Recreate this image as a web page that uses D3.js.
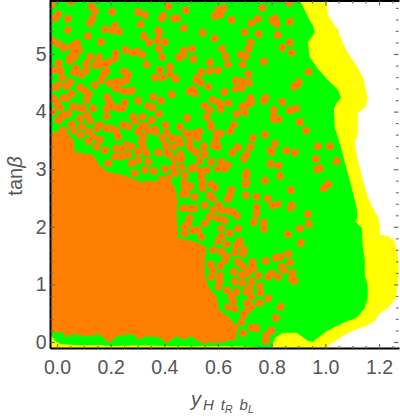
<!DOCTYPE html>
<html><head><meta charset="utf-8">
<script src="https://cdn.jsdelivr.net/npm/d3@7"></script>
<style>html,body{margin:0;padding:0;background:#fff}svg{display:block}</style>
</head><body><svg id="c" width="400" height="416"></svg>
<script>
const xMajor=[0,0.2,0.4,0.6,0.8,1.0,1.2];
const yMajor=[0,1,2,3,4,5];
const yellowEdge=[[1.002,-.1],[1.024,-.02],[1.065,.1],[1.099,.19],[1.155,.28],[1.184,.36],[1.203,.5],[1.233,.59],[1.263,.76],[1.274,1.16],[1.27,1.51],[1.259,1.75],[1.233,1.84],[1.203,1.86],[1.203,1.98],[1.199,2.15],[1.177,2.33],[1.158,2.52],[1.14,2.81],[1.121,3.16],[1.11,3.45],[1.121,3.63],[1.121,3.98],[1.151,4.08],[1.158,4.24],[1.151,4.38],[1.14,4.6],[1.11,4.84],[1.084,5.02],[1.065,5.19],[1.047,5.42],[1.028,5.54],[1.009,5.68],[1.006,5.93]];
const greenEdge=[[-.02,.1],[-.008,.02],[.01,-.03],[.06,-.05],[.1,-.055],[.15,-.05],[.2,-.07],[.3,-.06],[.35,-.06],[.4,-.07],[.5,-.08],[.6,-.07],[.7,-.08],[.76,-.1],[.8,-.1],[.812,.07],[.842,.16],[.894,.16],[.931,.03],[.953,0],[.98,.1],[1.006,.19],[1.065,.33],[1.117,.42],[1.147,.59],[1.158,.76],[1.158,.99],[1.147,1.16],[1.147,1.41],[1.14,1.63],[1.136,1.98],[1.11,2.1],[1.121,2.15],[1.117,2.33],[1.091,2.81],[1.073,3.11],[1.054,3.45],[1.035,3.73],[1.032,4.06],[1.043,4.15],[1.058,4.24],[1.047,4.38],[1.009,4.55],[.968,4.77],[.942,4.95],[.935,5.21],[.95,5.3],[.961,5.38],[.953,5.5],[.935,5.64],[.924,5.76],[.905,5.93]];
const orangeEdge=[[-.03,.17],[-.007,.17],[.024,.16],[.036,.07],[.055,.14],[.11,.1],[.16,.13],[.197,-.02],[.222,.1],[.284,.14],[.303,.04],[.334,.1],[.384,.08],[.408,-.02],[.446,.1],[.47,.04],[.502,.1],[.526,.01],[.595,-.02],[.669,.04],[.672,.25],[.64,.44],[.605,.55],[.595,.79],[.564,.96],[.551,1.19],[.551,1.42],[.557,1.65],[.51,1.75],[.452,1.8],[.446,2.27],[.45,2.45],[.44,2.68],[.415,2.85],[.385,2.78],[.346,2.8],[.309,2.78],[.247,2.9],[.185,2.96],[.154,3.1],[.135,3.25],[.067,3.3],[.061,3.51],[.024,3.71],[-.02,3.62],[-.03,3.6]];
const dotsUpperLeft=[[-.02,5.85],[.052,5.91],[.129,5.82],[.142,5.75],[-.007,5.62],[.005,5.69],[.041,5.61],[.123,5.54],[.133,5.62],[.206,5.73],[.303,5.73],[.328,5.68],[.312,5.52],[.396,5.66],[.39,5.62],[.436,5.62],[.448,5.62],[.48,5.76],[.415,5.82],[.216,5.49],[.179,5.43],[.207,5.41],[.232,5.39],[.041,5.42],[.115,5.31],[.324,5.31],[.377,5.41],[.381,5.36],[.473,5.45],[-.016,5.23],[.007,5.17],[.026,5.11],[.055,5.13],[.076,5.19],[.063,5.07],[.083,5.07],[.164,5.21],[.343,5.2],[.375,5.23],[.402,5.21],[.38,5.09],[.257,5.07],[.282,5.02],[.299,5.04],[.318,4.99],[.22,5.01],[.215,4.92],[.123,4.95],[.155,4.94],[.051,4.95],[.067,4.95],[.048,4.88],[.007,4.84],[.108,4.83],[.141,4.81],[.16,4.81],[.175,4.83],[.192,4.86],[.334,4.82],[.392,4.95],[.473,5.06],[.47,4.98],[.454,4.94],[.504,5.09],[.508,4.91],[.421,4.78],[-.01,4.72],[.014,4.71],[.071,4.75],[.063,4.69],[.108,4.71],[.185,4.71],[.175,4.65],[.166,4.55],[.25,4.7],[.266,4.64],[.089,4.64],[.02,4.59],[.365,4.59],[.392,4.59],[.383,4.72],[.421,4.65],[.443,4.57],[.524,4.59],[.52,4.55],[.05,4.51],[.034,4.44],[.005,4.46],[-.007,4.42],[.086,4.42],[.141,4.46],[.197,4.49],[.222,4.52],[.241,4.51],[.259,4.55],[.22,4.4],[.247,4.36],[.266,4.35],[.28,4.37],[.104,4.36],[.12,4.3],[.505,4.39],[.495,4.35],[.514,4.32],[.428,4.3],[.055,4.31],[-.011,4.23],[.024,4.24],[.036,4.24],[0,4.14],[.011,4.07],[.11,4.2],[.187,4.25],[.197,4.17],[.303,4.19],[.253,4.15],[.359,4.26],[.387,4.19],[.34,4.1],[.356,4.07],[.061,4.09],[.086,4.06],[.098,4.05],[.135,4.06],[.185,4.06],[.204,4.09],[.228,4.06],[.244,4.06],[-.016,4],[.042,3.97],[.03,3.94],[.017,3.91],[.005,3.85],[.113,3.94],[.185,3.92],[.086,3.88],[.123,3.84],[.284,3.91],[.319,3.91],[.29,3.84],[.353,3.85],[.38,3.96],[.485,3.89],[.024,3.68],[.055,3.78],[.061,3.68],[.092,3.74],[.086,3.59],[.117,3.65],[.148,3.71],[.16,3.77],[.185,3.71],[.204,3.71],[.222,3.65],[.228,3.56],[.247,3.77],[.266,3.74],[.315,3.74],[.328,3.75],[.303,3.65],[.34,3.67],[.365,3.69],[.405,3.77],[.458,3.74],[.321,3.56],[.315,3.48],[.222,3.36],[.241,3.34],[.259,3.42],[.278,3.39],[.321,3.39],[.303,3.3],[.334,3.28],[.179,3.33],[.191,3.1],[.216,3.22],[.241,3.22],[.266,3.25],[.278,3.1],[.303,3.16],[.34,3.13],[.328,2.99],[.29,2.93],[.117,3.48],[.135,3.56],[.16,3.51],[.148,3.39]];
const dotsUpperRight=[[.622,5.79],[.601,5.76],[.61,5.69],[.589,5.66],[.766,5.8],[.866,5.89],[.651,5.59],[.725,5.54],[.749,5.61],[.803,5.59],[.813,5.62],[.818,5.52],[.868,5.56],[.543,5.37],[.7,5.38],[.751,5.35],[.823,5.33],[.588,5.27],[.722,5.2],[.868,5.2],[.615,5.09],[.714,5.09],[.84,5.11],[.875,5.02],[.685,4.99],[.704,4.96],[.629,4.96],[.771,4.87],[.57,4.86],[.637,4.82],[.692,4.82],[.57,4.71],[.6,4.72],[.538,4.69],[.714,4.65],[.938,4.69],[.667,4.54],[.689,4.53],[.715,4.5],[.536,4.5],[.565,4.43],[.667,4.4],[.689,4.41],[.901,4.51],[.893,4.46],[.884,4.43],[.624,4.34],[.721,4.24],[.778,4.24],[.771,4.19],[.58,4.2],[.6,4.17],[.639,4.15],[.725,4.17],[.84,4.17],[.712,4.12],[.692,4.09],[.55,4.1],[.61,4.11],[.57,4.03],[.61,4.04],[.808,4.03],[.89,4.05],[.868,4.02],[.669,3.96],[.699,3.98],[.558,3.91],[.808,3.91],[.808,3.87],[.826,3.87],[.905,3.82],[.573,3.78],[.573,3.74],[.659,3.77],[.928,3.67],[.729,3.54],[.775,3.6],[.721,3.39],[.812,3.44],[.796,3.32],[.801,3.3],[.855,3.32],[.887,3.29],[.972,3.4],[1.017,3.4],[.707,3.26],[.697,3.18],[.965,3.18],[1.042,3.14],[.796,3.09],[.826,3.06],[.98,3.02],[.97,3],[.707,2.94],[.703,2.89],[.831,2.88],[.707,2.78],[.703,2.74],[.775,2.8],[1.011,2.74],[.995,2.67],[.871,2.64],[.704,2.55],[.744,2.52],[.786,2.49],[.803,2.37],[.823,2.39],[.875,2.37],[.744,2.34]];
const dotsLower=[[.744,2.22],[.871,2.33],[.935,2.22],[.938,2.05],[.734,2.08],[.771,2.07],[.771,1.96],[.905,1.97],[.861,1.87],[.909,1.72],[.682,1.76],[.863,1.53],[.816,1.46],[.834,1.48],[.868,1.38],[.837,1.3],[.846,1.25],[.878,1.2],[.8,1.19],[.825,1.13],[.874,1.1],[.886,1.06],[.754,.68],[.833,.61],[.816,.42],[.8,.2],[.551,.03]];
const dotsEdgeUpper=[[.368,3.65],[.393,3.54],[.41,3.63],[.43,3.54],[.455,3.52],[.458,3.45],[.406,3.42],[.435,3.39],[.48,3.63],[.495,3.52],[.507,3.62],[.53,3.65],[.526,3.55],[.492,3.42],[.501,3.36],[.594,3.62],[.609,3.62],[.594,3.52],[.646,3.66],[.547,3.4],[.584,3.42],[.6,3.39],[.675,3.38],[.52,3.29],[.551,3.26],[.532,3.15],[.575,3.13],[.654,3.29],[.46,3.26],[.408,3.29],[.42,3.25],[.377,3.29],[.439,3.17],[.464,3.19],[.464,3.04],[.433,3.03],[.402,3],[.439,2.93],[.361,2.97],[.476,2.9],[.501,3.01],[.513,3.03],[.538,2.96],[.559,2.99],[.538,2.87],[.542,2.78],[.6,3.01],[.613,3.13],[.637,3.07],[.625,3.01],[.575,2.74],[.588,2.68],[.542,2.67],[.476,2.77],[.476,2.7],[.497,2.7],[.47,2.57],[.482,2.57],[.513,2.52],[.569,2.55],[.582,2.49],[.65,2.64],[.644,2.55],[.637,2.48],[.603,2.38],[.551,2.38],[.513,2.32],[.47,2.32],[.492,2.32],[.613,2.29],[.637,2.28],[.656,2.26],[.671,2.19],[.582,2.29],[.569,2.17],[.6,2.15],[.495,2.15],[.489,2.07],[.551,2.06],[.625,2.11],[.613,1.97],[.644,1.89],[.675,1.97],[.476,2],[.476,1.89],[.507,1.94],[.526,1.94],[.538,1.82],[.613,1.83],[.389,2.81],[.414,2.84]];
const dotsEdgeLower=[[.601,1.75],[.632,1.7],[.681,1.71],[.669,1.68],[.613,1.57],[.663,1.55],[.696,1.6],[.694,1.53],[.582,1.6],[.632,1.48],[.626,1.42],[.675,1.39],[.729,1.39],[.778,1.41],[.572,1.35],[.609,1.32],[.691,1.32],[.733,1.28],[.58,1.25],[.716,1.25],[.659,1.22],[.709,1.19],[.576,1.13],[.607,1.15],[.688,1.16],[.75,1.15],[.787,1.13],[.607,1.06],[.663,1.05],[.725,1.05],[.691,1.02],[.756,.97],[.601,.96],[.719,.93],[.706,.87],[.634,.9],[.669,.87],[.758,.86],[.725,.79],[.787,.76],[.65,.79],[.657,.72],[.709,.68],[.756,.68],[.638,.61],[.663,.58],[.725,.62],[.709,.55],[.696,.47],[.688,.35],[.725,.25],[.743,.24],[.663,.25],[.694,.15],[.781,.12],[.778,.02]];

const L=50.5,R=399.5,T=1,B=348.5;
const x=d3.scaleLinear().domain([0,1.2]).range([57,379]);
const y=d3.scaleLinear().domain([0,5]).range([342,54]);
const svg=d3.select('#c');
const xMin=x.invert(L),yMax=y.invert(T),yMin=y.invert(B);
svg.append('defs').append('clipPath').attr('id','pc').append('rect').attr('x',L).attr('y',T).attr('width',R-L).attr('height',B-T);
const g=svg.append('g').attr('clip-path','url(#pc)');
const line=d3.line().x(d=>x(d[0])).y(d=>y(d[1]));
g.append('path').attr('fill','#ffff00').attr('d',line([[xMin,yMin],...yellowEdge,[xMin,yMax]]));
g.append('path').attr('fill','#00ff00').attr('d',line([...greenEdge,[xMin,yMax],[xMin,.1]]));
g.append('path').attr('fill','#ff8000').attr('d',line(orangeEdge));
g.selectAll('circle').data([...dotsUpperLeft,...dotsUpperRight,...dotsLower,...dotsEdgeUpper,...dotsEdgeLower]).join('circle')
  .attr('cx',d=>x(d[0])).attr('cy',d=>y(d[1])).attr('r',3.9).attr('fill','#ff8000');

svg.append('path').attr('fill','none').attr('stroke','#000').attr('stroke-width',2)
  .attr('d',`M${L},${B}V${T}H${R}M${L},${B}H${R}`);

const tickCol='#6a6a6a';
const xMinor=d3.range(0,26).map(i=>i*0.05).filter(v=>!xMajor.some(m=>Math.abs(m-v)<1e-6));
const yMinor=d3.range(0,30).map(i=>i*0.2).filter(v=>!yMajor.some(m=>Math.abs(m-v)<1e-6));
function ax(gen,scale,vals,size,tr,labels){
  const a=gen(scale).tickValues(vals).tickSizeInner(size).tickSizeOuter(0).tickPadding(6)
    .tickFormat(labels?labels:()=>'');
  const s=svg.append('g').attr('transform',tr).call(a);
  s.select('.domain').remove();
  s.selectAll('line').attr('stroke',tickCol).attr('stroke-width',1.2);
  s.selectAll('text').attr('fill','#555').attr('font-family','Liberation Sans, Arial, sans-serif').attr('font-size',19.5);
  return s;
}
ax(d3.axisBottom,x,xMinor,-2.5,`translate(0,${B})`);
ax(d3.axisTop,x,xMinor,-2.5,`translate(0,${T})`);
ax(d3.axisLeft,y,yMinor,-2.5,`translate(${L},0)`);
ax(d3.axisRight,y,yMinor,-2.5,`translate(${R-1},0)`);
ax(d3.axisTop,x,xMajor,-4.5,`translate(0,${T})`);
ax(d3.axisRight,y,yMajor,-4.5,`translate(${R-1},0)`);
const bx=ax(d3.axisBottom,x,xMajor,-4.5,`translate(0,${B})`,d3.format('.1f'));
bx.selectAll('text').attr('dy',null).attr('y',25);
const ly=ax(d3.axisLeft,y,yMajor,-4.5,`translate(${L},0)`,d3.format('d'));
ly.selectAll('text').attr('x',-4);

const font='Liberation Sans, Arial, sans-serif';
const yt=svg.append('text').attr('transform','translate(22,176) rotate(-90)').attr('text-anchor','middle')
  .attr('font-family',font).attr('font-size',20).attr('fill','#555');
yt.append('tspan').text('tan');
yt.append('tspan').attr('font-style','italic').text('β');

const xt=svg.append('text').attr('x',191).attr('y',406).attr('font-family',font).attr('font-style','italic').attr('fill','#555').attr('font-size',20);
xt.append('tspan').text('y');
xt.append('tspan').attr('font-size',15).attr('dx',2).attr('dy',4).text('H');
xt.append('tspan').attr('font-size',15).attr('dx',7).text('t');
xt.append('tspan').attr('font-size',10.5).attr('dy',3).text('R');
xt.append('tspan').attr('font-size',15).attr('dx',7).attr('dy',-3).text('b');
xt.append('tspan').attr('font-size',10.5).attr('dy',3).text('L');
</script></body></html>
